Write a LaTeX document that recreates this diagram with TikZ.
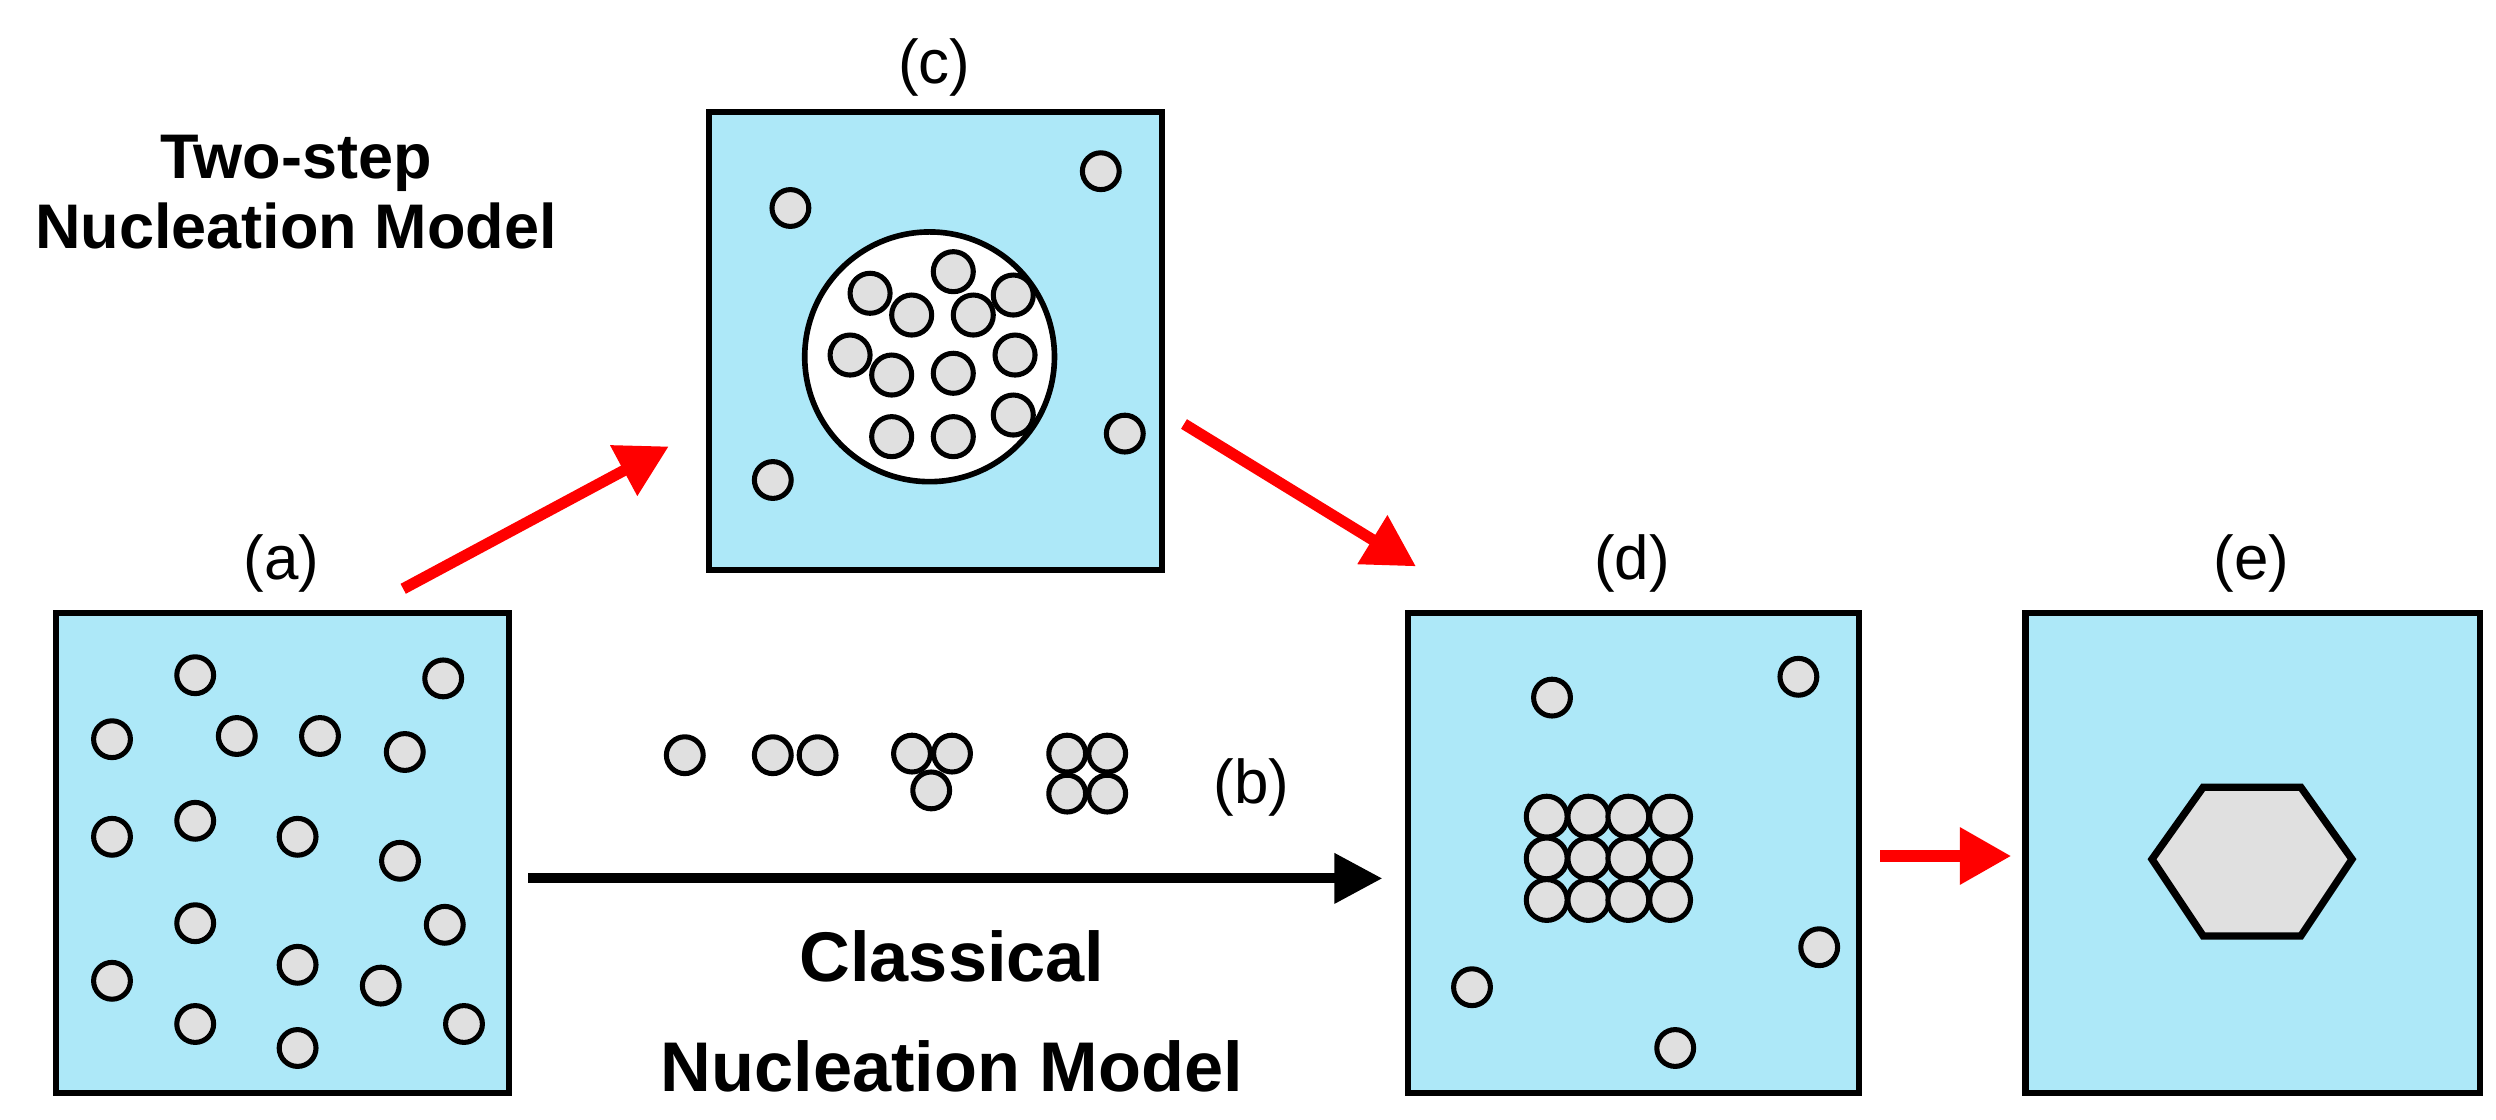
\documentclass[tikz,border=0pt]{standalone}
\usepackage{fontspec}
\setmainfont{Liberation Sans}
\usetikzlibrary{arrows.meta}
\definecolor{bg}{RGB}{173,232,248}
\definecolor{pt}{RGB}{224,224,224}
\begin{document}
\begin{tikzpicture}[x=0.01cm,y=-0.01cm,
  box/.style={draw=black,line width=1.1pt,fill=bg},
  p/.style={circle,draw=black,line width=0.9pt,fill=pt,minimum size=0.23cm,inner sep=0pt},
  q/.style={circle,draw=black,line width=0.9pt,fill=pt,minimum size=0.25cm,inner sep=0pt},
  g/.style={circle,draw=black,line width=0.9pt,fill=pt,minimum size=0.255cm,inner sep=0pt},
  lab/.style={font=\fontsize{11}{13}\selectfont},
  ttl/.style={font=\bfseries\fontsize{11.2}{12.5}\selectfont,align=center},
  ttl2/.style={font=\bfseries\fontsize{12.5}{19.5}\selectfont,align=center},
  red/.style={draw=red,line width=2pt,-{Triangle[length=0.32cm,width=0.34cm]}},
  blk/.style={draw=black,line width=1.8pt,-{Triangle[length=0.3cm,width=0.3cm]}}]
\useasboundingbox (0,0) rectangle (1560,700);
% boxes
\node[box,minimum width=2.83cm,minimum height=3.0cm,inner sep=0pt] (A) at (176.5,533) {};
\node[box,minimum width=2.83cm,minimum height=2.86cm,inner sep=0pt] (C) at (584.5,213) {};
\node[box,minimum width=2.82cm,minimum height=3.0cm,inner sep=0pt] (D) at (1021,533) {};
\node[box,minimum width=2.84cm,minimum height=3.0cm,inner sep=0pt] (E) at (1408,533) {};
% labels
\node[lab] (la) at (176,352) {(a)};
\node[lab] (lc) at (584,42) {(c)};
\node[lab] (ld) at (1020,352) {(d)};
\node[lab] (le) at (1407,352) {(e)};
\node[lab] (lb) at (782,492) {(b)};
\node[ttl] (t1) at (185,120) {Two-step\\Nucleation Model};
\node[ttl2] (t2) at (595,632) {Classical\\Nucleation Model};
% (a) particles
\foreach \x/\y [count=\i] in {122/422,277/424,70/462,148/460,200/460,253/470,70/523,122/513,186/523,250/538,122/577,278/578,70/613,186/603,238/616,122/640,186/655,290/640}
  \node[p] (a\i) at (\x,\y) {};
% (c)
\foreach \x/\y [count=\i] in {494/130,688/107,483/300,703/271}
  \node[p] (c\i) at (\x,\y) {};
\node[circle,draw=black,line width=1pt,fill=white,minimum size=1.56cm,inner sep=0pt] (drop) at (581,223) {};
\foreach \x/\y [count=\i] in {543.8/183.3,569.8/196.9,595.8/169.8,608.3/196.9,633.3/184.4,531.3/221.9,557.3/234.4,595.8/233.3,634.4/221.9,557.3/272.9,595.8/272.9,633.3/259.4}
  \node[q] (k\i) at (\x,\y) {};
% (b) clusters
\foreach \x/\y [count=\i] in {428/472,483/472,511/472,570/471,595/471,582/494,667/471,692/471,667/496,692/496}
  \node[p] (b\i) at (\x,\y) {};
% (d)
\foreach \x/\y [count=\i] in {970/436,1124/423,1137/592,920/617,1047/655}
  \node[p] (d\i) at (\x,\y) {};
\foreach \x in {966.7,992.7,1017.7,1043.8}
  \foreach \y in {510.4,536.5,562.5}
    \node[g] at (\x,\y) {};
% (e) hexagon
\draw[line width=1.3pt,fill=pt] (1345,537) -- (1377,492) -- (1438,492) -- (1470,537) -- (1438,585) -- (1377,585) -- cycle;
% arrows
\coordinate (r1s) at (252,368); \coordinate (r1e) at (418,279);
\coordinate (r2s) at (740,265); \coordinate (r2e) at (885,354);
\coordinate (r3s) at (1175,535); \coordinate (r3e) at (1257,535);
\coordinate (bs) at (330,549); \coordinate (be) at (864,549);
\draw[red] (r1s) -- (r1e);
\draw[red] (r2s) -- (r2e);
\draw[red] (r3s) -- (r3e);
\draw[blk] (bs) -- (be);
\end{tikzpicture}
\end{document}
